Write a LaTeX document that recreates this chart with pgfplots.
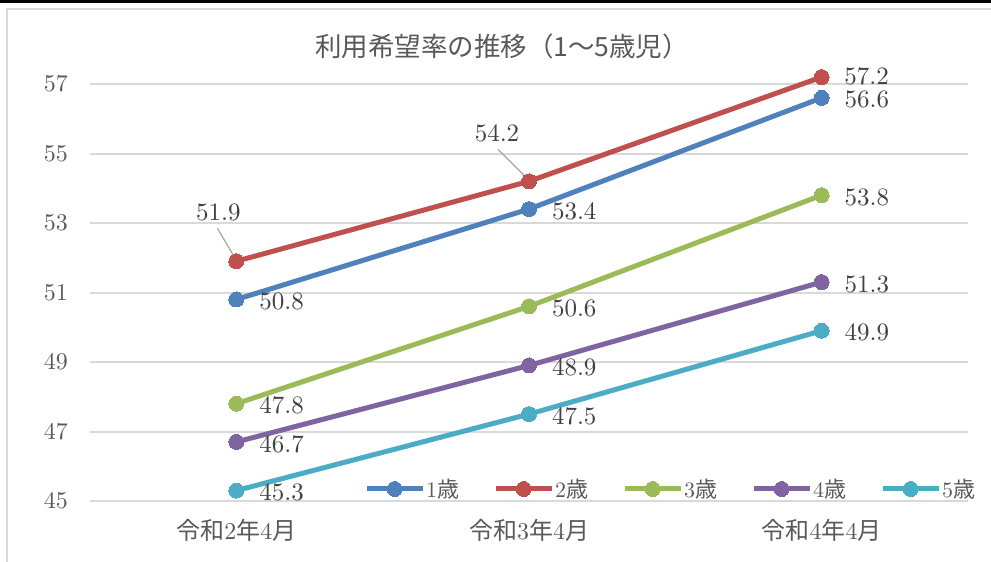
\documentclass[border=0pt]{standalone}
\usepackage{fontspec}
\setmainfont{lmroman10-regular.otf}
\newfontfamily\jp{Noto Sans CJK JP}
\usepackage{pgfplots}
\pgfplotsset{compat=1.18}
\definecolor{c1}{HTML}{4F81BD}
\definecolor{c2}{HTML}{C0504D}
\definecolor{c3}{HTML}{9BBB59}
\definecolor{c4}{HTML}{8064A2}
\definecolor{c5}{HTML}{4BACC6}
\definecolor{gridc}{HTML}{D9D9D9}
\definecolor{tickc}{HTML}{595959}
\definecolor{labc}{HTML}{404040}
\definecolor{leadc}{HTML}{A6A6A6}
\tikzset{lblbase/.style={font=\fontsize{25}{30}\selectfont, text=labc, inner sep=0pt}}
\pgfplotsset{
  stdlbl/.style={
    nodes near coords={\pgfmathprintnumber[fixed,fixed zerofill,precision=1]{\pgfplotspointmeta}},
    every node near coord/.style={lblbase, anchor=west, xshift=23pt, yshift=-2pt}},
  ser/.style={#1, line width=5pt, mark=*, mark size=7.5pt, mark options={solid, fill=#1, draw=#1, line width=0pt}},
}
\begin{document}
\begin{tikzpicture}
\useasboundingbox (0,0) rectangle (991pt,-562pt);
\fill[white] (0,0) rectangle (991pt,-562pt);
\fill[black] (0,0) rectangle (991pt,-2.5pt);
\draw[gridc, line width=2pt] (7pt,-562pt) -- (7pt,-9pt) -- (991pt,-9pt);
\node[font=\jp\fontsize{26.5}{30}\selectfont, text=tickc] at (502pt,-46pt) {利用希望率の推移（1～5歳児）};
\begin{axis}[
  at={(90pt,-501pt)}, anchor=south west, scale only axis,
  width=878pt, height=417pt,
  xmin=-0.5, xmax=2.5, ymin=45, ymax=57,
  clip=false,
  axis line style={draw=none},
  major tick length=0pt,
  xtick={0,1,2},
  xticklabels={{{\jp 令和}2{\jp 年}4{\jp 月}},{{\jp 令和}3{\jp 年}4{\jp 月}},{{\jp 令和}4{\jp 年}4{\jp 月}}},
  ytick={45,47,...,57},
  ymajorgrids, grid style={gridc, line width=2pt},
  /pgf/number format/assume math mode=true,
  yticklabel style={font=\fontsize{24}{28}\selectfont, text=tickc, inner sep=0pt, anchor=east, xshift=-22pt},
  xticklabel style={font=\fontsize{24}{28}\selectfont, text=tickc, inner sep=0pt, anchor=center, yshift=-29pt},
  legend columns=5,
  legend style={at={(0.312,0.0288)}, anchor=west, draw=none, fill=none, inner sep=0pt,
    font=\fontsize{22}{26}\selectfont, text=tickc, nodes={inner sep=1pt},
    /tikz/every even column/.append style={column sep=33pt}},
  legend image code/.code={\draw[mark repeat=2, mark phase=2] plot coordinates {(0pt,0pt) (28pt,0pt) (56pt,0pt)};},
]
\draw[leadc, line width=1.2pt] ([xshift=-19pt,yshift=33pt]axis cs:0,51.9) -- ([yshift=1pt]axis cs:0,51.9);
\draw[leadc, line width=1.2pt] ([xshift=-31pt,yshift=32pt]axis cs:1,54.2) -- ([yshift=1pt]axis cs:1,54.2);
\addplot[ser=c1, stdlbl] coordinates {(0,50.8) (1,53.4) (2,56.6)};
\addplot[ser=c2,
  nodes near coords={\pgfmathprintnumber[fixed,fixed zerofill,precision=1]{\pgfplotspointmeta}},
  visualization depends on={value \thisrow{dx}\as\dx},
  visualization depends on={value \thisrow{dy}\as\dy},
  every node near coord/.style={lblbase, anchor=center, xshift=\dx pt, yshift=\dy pt}]
  table[x=x, y=y] {
x y dx dy
0 51.9 -18 49
1 54.2 -32 48
2 57.2 45 1
};
\addplot[ser=c3, stdlbl] coordinates {(0,47.8) (1,50.6) (2,53.8)};
\addplot[ser=c4, stdlbl] coordinates {(0,46.7) (1,48.9) (2,51.3)};
\addplot[ser=c5, stdlbl] coordinates {(0,45.3) (1,47.5) (2,49.9)};
\legend{1{\jp 歳},2{\jp 歳},3{\jp 歳},4{\jp 歳},5{\jp 歳}}
\end{axis}
\end{tikzpicture}
\end{document}
